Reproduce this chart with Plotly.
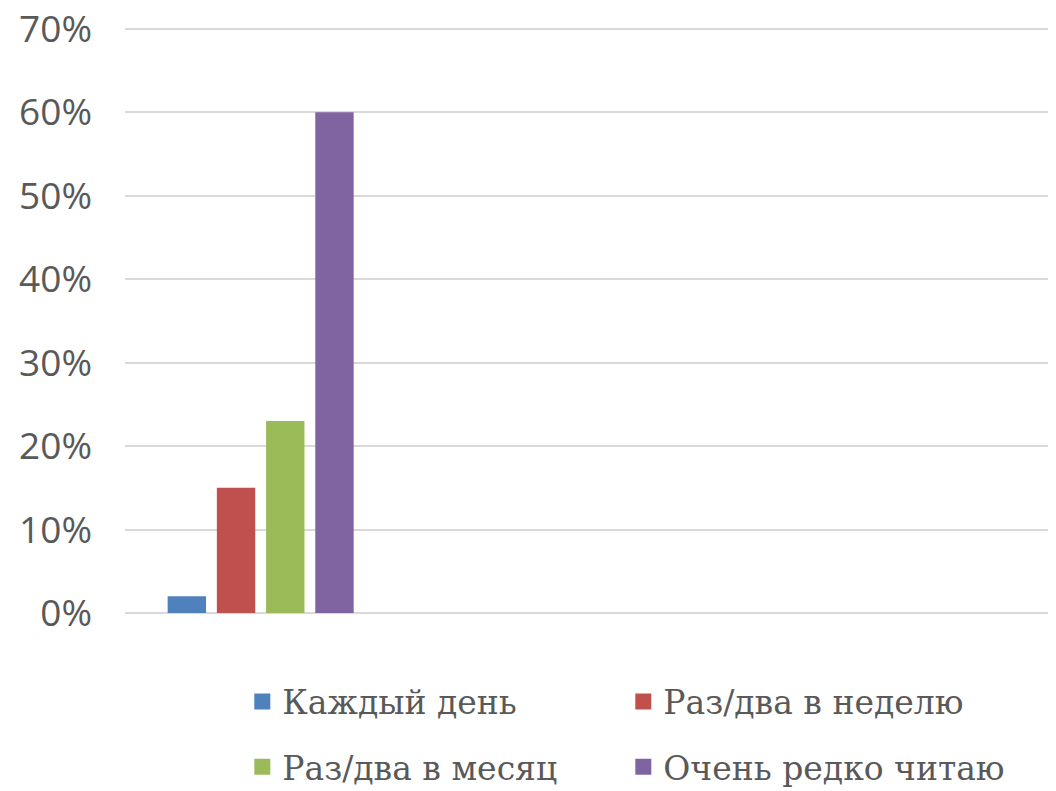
import plotly.graph_objects as go

series_names = ["Каждый день", "Раз/два в неделю", "Раз/два в месяц", "Очень редко читаю"]
series_values = [0.02, 0.15, 0.23, 0.60]
series_colors = ["#4F81BD", "#C0504D", "#9BBB59", "#8064A2"]
y_ticks = [0.0, 0.1, 0.2, 0.3, 0.4, 0.5, 0.6, 0.7]
y_tick_labels = ["0%", "10%", "20%", "30%", "40%", "50%", "60%", "70%"]
category = [0]
legend_ids = ["legend", "legend", "legend2", "legend2"]

fig = go.Figure()
for name, val, col in zip(series_names, series_values, series_colors):
    fig.add_trace(go.Bar(x=category, y=[val], name=name, marker_color=col,
                         marker_line_width=0, showlegend=False))
# legend entries with larger square swatches
for name, col, lg in zip(series_names, series_colors, legend_ids):
    fig.add_trace(go.Scatter(x=[None], y=[None], mode="markers", name=name,
                             marker=dict(symbol="square", size=19, color=col),
                             legend=lg, hoverinfo="skip"))

legend_font = dict(family="DejaVu Serif", size=33, color="#595959")
fig.update_layout(
    width=1048, height=783,
    margin=dict(l=117, r=0, t=18, b=178, autoexpand=False),
    paper_bgcolor="white", plot_bgcolor="white",
    barmode="group", bargap=0.26, bargroupgap=0.22,
    xaxis=dict(range=[-0.51, 2.99], showticklabels=False, showgrid=False,
               zeroline=False, showline=False, ticks=""),
    yaxis=dict(range=[0, 0.7035], tickmode="array", tickvals=y_ticks,
               ticktext=y_tick_labels, showgrid=True,
               gridcolor="#D9D9D9", gridwidth=2, zeroline=True,
               zerolinecolor="#D9D9D9", zerolinewidth=2, ticks="",
               ticklabelstandoff=32, ticklabeloverflow="allow",
               tickfont=dict(family="Open Sans", size=37, color="#595959")),
    legend=dict(orientation="h", x=0.126, xanchor="left", y=-0.151, yanchor="middle",
                entrywidth=336, entrywidthmode="pixels", font=legend_font,
                bgcolor="rgba(0,0,0,0)"),
    legend2=dict(orientation="h", x=0.126, xanchor="left", y=-0.262, yanchor="middle",
                 entrywidth=336, entrywidthmode="pixels", font=legend_font,
                 bgcolor="rgba(0,0,0,0)"),
)

fig.write_html("out.html")
